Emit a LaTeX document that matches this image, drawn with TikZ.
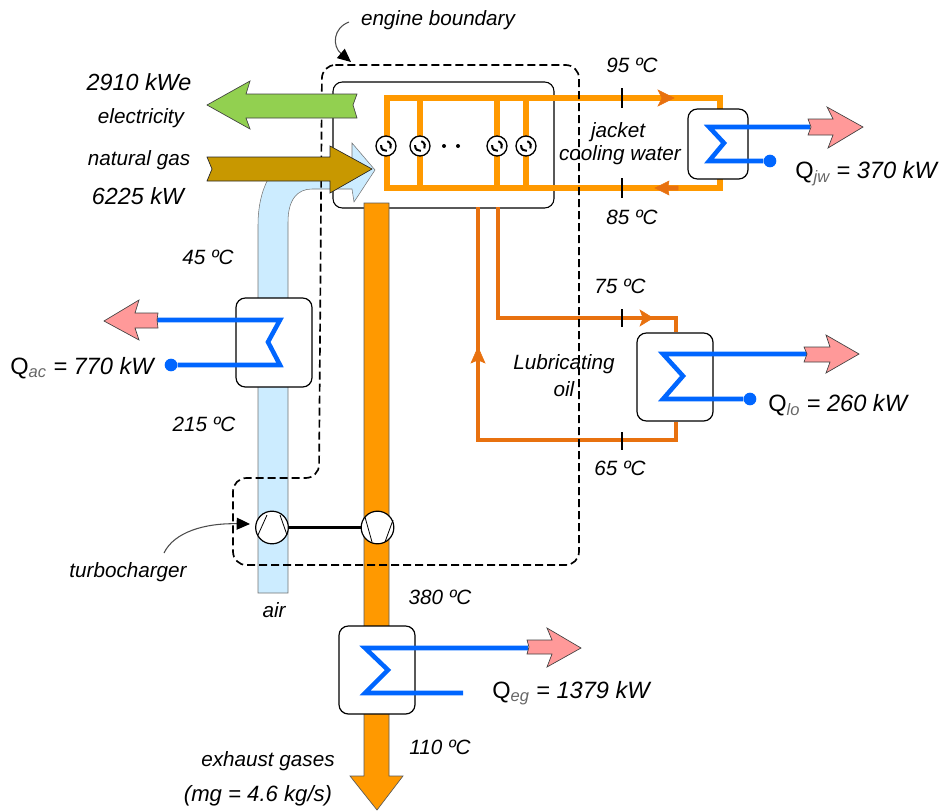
\documentclass[tikz,border=0pt]{standalone}
\usepackage{fontspec}
\setmainfont{Liberation Sans}
\usetikzlibrary{arrows.meta}
\definecolor{pipeorange}{HTML}{FF9900}
\definecolor{oilorange}{HTML}{E8710F}
\definecolor{coilblue}{HTML}{0066FF}
\definecolor{airblue}{HTML}{CCECFF}
\definecolor{heatpink}{HTML}{FF9999}
\definecolor{elecgreen}{HTML}{92D050}
\definecolor{gasbrown}{HTML}{C89800}
\begin{document}
\begin{tikzpicture}[x=0.75pt, y=-0.75pt,
    lab/.style={font=\itshape\fontsize{15.5}{18}\selectfont, inner sep=0pt},
    biglab/.style={font=\itshape\fontsize{17.5}{20}\selectfont, inner sep=0pt},
    qlab/.style={font=\itshape\fontsize{17.7}{20}\selectfont, inner sep=0pt, anchor=base west},
    hx/.style={draw, fill=white, line width=0.9pt, rounded corners=7pt, inner sep=0pt},
    coil/.style={coilblue, line width=3.4pt, line join=miter},
    coildot/.style={circle, fill=coilblue, inner sep=0pt, minimum size=9.5pt},
    heat/.style={fill=heatpink, draw=black!75, line width=0.5pt},
    jacket/.style={pipeorange, line width=4pt},
    oil/.style={oilorange, line width=3.6pt},
    flowmark/.style={fill=oilorange},
    tick/.style={line width=1pt},
    cyl/.style={circle, draw, fill=white, line width=1pt, inner sep=0pt, minimum size=15pt},
    rotor/.style={circle, draw, fill=white, line width=0.9pt, inner sep=0pt, minimum size=24.5pt},
    boundary/.style={line width=1.25pt, dash pattern=on 6pt off 3pt, rounded corners=10pt},
    callout/.style={black!70, line width=0.8pt, -{Triangle[length=10pt,width=9pt,black]}}]
  \useasboundingbox (0,0) rectangle (941,810);

  % engine block
  \node[draw, fill=white, line width=0.8pt, rounded corners=7pt, minimum width=165.75pt,
        minimum height=94.5pt, inner sep=0pt] (engine) at (443.5,145) {};

  % jacket water loop and cylinders
  \draw[jacket] (720,109) -- (720,98) -- (387,98) -- (387,188) -- (720,188) -- (720,179);
  \foreach \x in {420,497,526}
    \draw[jacket] (\x,98) -- (\x,188);
  \foreach \x/\name in {386/cyla,420/cylb,497/cylc,526/cyld} {
    \node[cyl] (\name) at (\x,146) {};
    \draw[line width=1.5pt] (\name.center) ++(75:3.7pt) arc[start angle=75, end angle=-30, radius=3.7pt];
    \draw[line width=1.5pt] (\name.center) ++(170:3.7pt) arc[start angle=170, end angle=280, radius=3.7pt];
  }
  \node[circle, fill, inner sep=0pt, minimum size=3pt] (dota) at (444,146) {};
  \node[circle, fill, inner sep=0pt, minimum size=3pt] (dotb) at (458,146) {};
  \draw[flowmark, oilorange] (658,90) -- (674,98) -- (658,106) -- (662,98) -- cycle;
  \draw[flowmark, oilorange] (655,188) -- (669,181) -- (668,186) -- (678,186) -- (678,190) -- (668,190) -- (669,195) -- cycle;
  \draw[tick] (622,88) -- (622,108);
  \draw[tick] (622,178) -- (622,198);

  % lube oil loop
  \node[hx, minimum width=57pt, minimum height=66pt] (hxlo) at (675,377) {};
  \draw[oil] (498,207) -- (498,318) -- (676,318) -- (676,318 |- hxlo.north);
  \draw[oil] (478,207) -- (478,440) -- (676,440) -- (676,440 |- hxlo.south);
  \draw[flowmark, oilorange] (640,310) -- (653,318) -- (640,326) -- (643,318) -- cycle;
  \draw[flowmark, oilorange] (478,347) -- (485,363) -- (478,360) -- (471,363) -- cycle;
  \draw[tick] (622,309) -- (622,327);
  \draw[tick] (622,432) -- (622,450);

  % charge air
  \draw[fill=airblue, draw=black!55, line width=0.4pt] (258,593) -- (258,225)
      .. controls (258,190) and (272,158) .. (300,158) -- (352,158) -- (352,143)
      -- (375,170) -- (354,202) -- (352,189) -- (312,189)
      .. controls (297,189) and (288,200) .. (288,222) -- (288,593) -- cycle;

  % exhaust stack
  \draw[fill=pipeorange, draw=black!65, line width=0.5pt] (364,203) -- (389,203) -- (389,776)
      -- (403,776) -- (377,810) -- (350,776) -- (364,776) -- cycle;

  % engine boundary and turbocharger envelope
  \draw[boundary] (322,65) -- (579,65) -- (579,565) -- (233,565) -- (233,478) -- (319,478) -- cycle;

  % energy streams
  \draw[fill=elecgreen, draw=black!75, line width=0.5pt] (207,105) -- (250,81) -- (246,94) -- (357,94)
      -- (353,105) -- (357,118) -- (246,118) -- (250,129) -- cycle;
  \draw[fill=gasbrown, draw=black!85, line width=0.5pt] (207,157) -- (330,157) -- (330,146) -- (372,169)
      -- (330,193) -- (330,181) -- (207,181) -- (212,169) -- cycle;

  % turbocharger
  \node[rotor] (comp) at (272,527.5) {};
  \node[rotor] (turb) at (377.5,527.5) {};
  \draw[line width=2.2pt] (comp) -- (turb);
  \draw[line width=0.6pt] (258,535) -- (267,515);
  \draw[line width=0.6pt] (280,515) -- (287,535);
  \draw[line width=0.6pt] (365,517) -- (372,542);
  \draw[line width=0.6pt] (385,542) -- (393,520);

  % jacket water cooler
  \node[hx, minimum width=45pt, minimum height=52.5pt] (hxjw) at (718,144) {};
  \node[coildot] (endjw) at (770,161) {};
  \coordinate (outjw) at (810,127);
  \draw[coil] (outjw) -- (709,127) -- (724,143) -- (709,161) -- (endjw);
  \draw[heat] (808,119) -- (833,119) -- (827,107) -- (863,127) -- (828,148) -- (833,135) -- (808,135) -- (811,127) -- cycle;

  % lube oil cooler
  \node[coildot] (endlo) at (750,399) {};
  \coordinate (outlo) at (807,354);
  \draw[coil] (outlo) -- (663,354) -- (683,376) -- (663,399) -- (endlo);
  \draw[heat] (804,347) -- (830,347) -- (826,335) -- (859,354) -- (826,373) -- (830,362) -- (804,362) -- (807,354) -- cycle;

  % charge air cooler
  \node[hx, minimum width=57pt, minimum height=66.75pt] (hxac) at (274,342.5) {};
  \node[coildot] (endac) at (171,365) {};
  \coordinate (outac) at (157,320);
  \draw[coil] (outac) -- (280,320) -- (268,342) -- (280,365) -- (endac);
  \draw[heat] (104,321) -- (139,300) -- (135,313) -- (158,313) -- (157,320) -- (158,328) -- (135,328) -- (139,340) -- cycle;

  % exhaust gas boiler
  \node[hx, minimum width=57pt, minimum height=66pt] (hxeg) at (377,670) {};
  \coordinate (outeg) at (528,648);
  \coordinate (endeg) at (463,693);
  \draw[coil] (outeg) -- (365,648) -- (388,670) -- (365,693) -- (endeg);
  \draw[heat] (527,640) -- (552,640) -- (547,628) -- (581,648) -- (547,667) -- (552,654) -- (527,654) -- (529,647) -- cycle;

  % callouts
  \node[lab] (bndlabel) at (438,20) {engine boundary};
  \node[lab] (tclabel) at (128,572) {turbocharger};
  \coordinate (bndtail) at (349,22);
  \coordinate (bndtip) at (351,62);
  \coordinate (tctail) at (164,553);
  \coordinate (tctip) at (250,524);
  \draw[callout] (bndtail) .. controls (333,28) and (332,46) .. (bndtip);
  \draw[callout] (tctail) .. controls (174,532) and (205,523) .. (tctip);

  % labels
  \node[biglab] (power) at (139,82) {2910 kWe};
  \node[lab] (elec) at (141,118) {electricity};
  \node[lab] (gas) at (139,160) {natural gas};
  \node[biglab] (fuel) at (138,196) {6225 kW};
  \node[lab] (tjwhot) at (632,65) {95 ºC};
  \node[lab] (tjwcold) at (632,217) {85 ºC};
  \node[lab] (tlohot) at (620,286) {75 ºC};
  \node[lab] (tlocold) at (620,468) {65 ºC};
  \node[lab] (tachot) at (204,424) {215 ºC};
  \node[lab] (taccold) at (208,257) {45 ºC};
  \node[lab] (teghot) at (440,597) {380 ºC};
  \node[lab] (tegcold) at (440,747) {110 ºC};
  \node[lab] (jwa) at (618,132) {jacket};
  \node[lab] (jwb) at (620,155) {cooling water};
  \node[lab] (loa) at (564,364) {Lubricating};
  \node[lab] (lob) at (564,389) {oil};
  \node[lab] (air) at (274,610) {air};
  \node[lab] (exa) at (268,761) {exhaust gases};
  \node[lab, font=\itshape\fontsize{16.6}{18}\selectfont] (exb) at (258,796) {(mg = 4.6 kg/s)};
  \node[qlab] (qjw) at (795,178) {\textup{Q}\textsubscript{\color{black!60}jw} = 370 kW};
  \node[qlab] (qac) at (10,374) {\textup{Q}\textsubscript{\color{black!60}ac} = 770 kW};
  \node[qlab] (qlo) at (768,411) {\textup{Q}\textsubscript{\color{black!60}lo} = 260 kW};
  \node[qlab] (qeg) at (492,698) {\textup{Q}\textsubscript{\color{black!60}eg} = 1379 kW};
\end{tikzpicture}
\end{document}
